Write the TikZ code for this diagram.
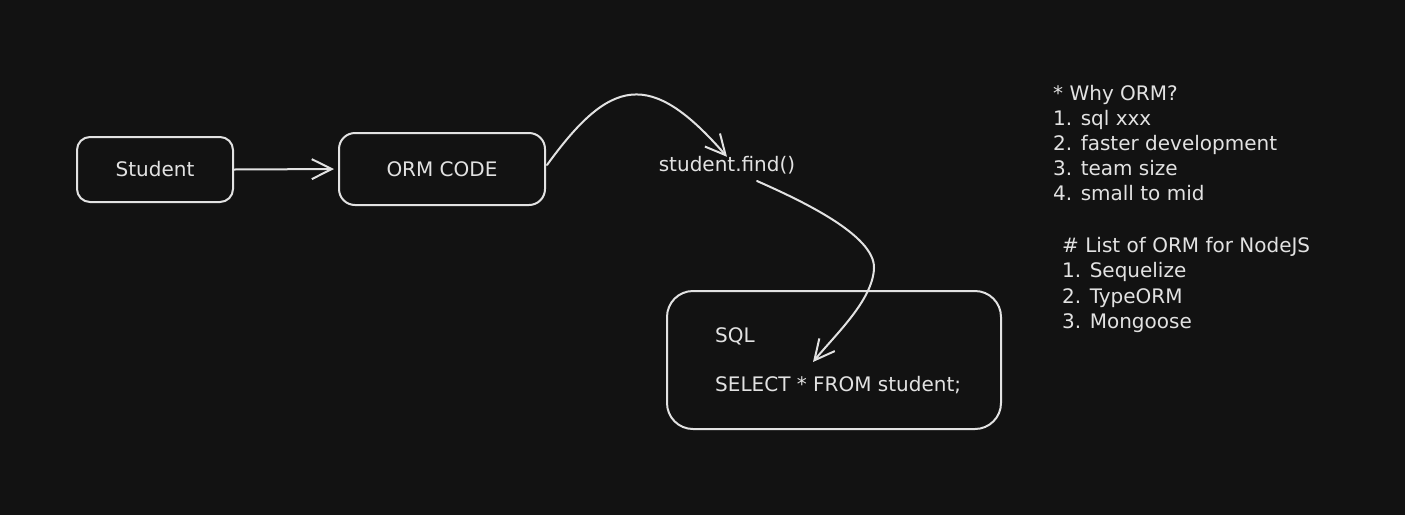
\documentclass[tikz,border=0pt]{standalone}
\usepackage{fontspec}
\setmainfont{DejaVu Sans}
\usetikzlibrary{arrows.meta}
\definecolor{bg}{HTML}{121212}
\definecolor{ink}{HTML}{E2E2E2}
\tikzset{
  txt/.style={text=ink, font=\fontsize{20}{24}\selectfont},
  box/.style={txt, draw=ink, line width=2pt, fill=bg},
  lbl/.style={txt, inner sep=0pt, anchor=west, text height=14pt, text depth=4pt},
  conn/.style={draw=ink, line width=2pt, line cap=round,
    -{Straight Barb[length=20pt,width=20pt,line width=2pt]}},
}
\begin{document}
\begin{tikzpicture}[x=1pt,y=-1pt]
\fill[bg] (0,0) rectangle (1405,515);
\useasboundingbox (0,0) rectangle (1405,515);

\node[box, rounded corners=13pt, minimum width=156pt, minimum height=65pt] (student) at (155,169.5) {Student};
\node[box, rounded corners=16pt, minimum width=206pt, minimum height=72pt] (orm) at (442,169) {ORM CODE};
\node[box, rounded corners=26pt, minimum width=334pt, minimum height=138pt] (sqlbox) at (834,360) {};
\node[txt, inner sep=0pt, text height=14pt, text depth=4pt] (find) at (727,166) {student.find()};
\node[lbl] (sqlt) at (715,337) {SQL};
\node[lbl] (sel) at (715,386) {SELECT * FROM student;};

\node[lbl] (w1) at (1053,95) {* Why ORM?};
\node[lbl] (w2) at (1053,120) {1. sql xxx};
\node[lbl] (w3) at (1053,145) {2. faster development};
\node[lbl] (w4) at (1053,170) {3. team size};
\node[lbl] (w5) at (1053,195) {4. small to mid};
\node[lbl] (l1) at (1062,247) {\# List of ORM for NodeJS};
\node[lbl] (l2) at (1062,272) {1. Sequelize};
\node[lbl] (l3) at (1062,298) {2. TypeORM};
\node[lbl] (l4) at (1062,323) {3. Mongoose};

\coordinate (c1s) at (547,165);
\coordinate (c2s) at (757,181);
\coordinate (c2e) at (813,362);

\draw[conn, shorten >=4pt] (student.east) -- (orm.west);
\draw[conn] (c1s) .. controls (610,78) and (650,68) .. (find.north);
\draw[conn] (c2s) .. controls (800,200) and (875,235) .. (874,268)
  .. controls (873,300) and (835,335) .. (c2e);
\end{tikzpicture}
\end{document}
